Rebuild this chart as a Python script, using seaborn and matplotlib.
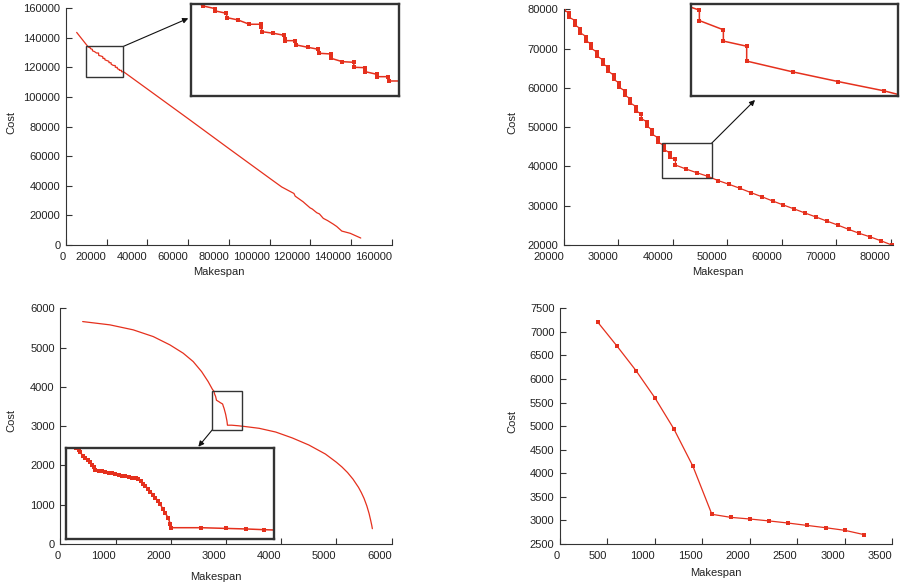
import matplotlib
matplotlib.use('Agg')
import matplotlib.pyplot as plt
import seaborn as sns
from matplotlib.patches import Rectangle

# top-left run: makespan / cost (inset region read from the zoom box)
tl_makespan = [5250, 10920, 12005, 12005, 12974, 13036, 14006, 15002, 16007, 16033, 16121, 17117,
               18060, 18122, 18175, 19056, 19145, 20149, 21084, 21145, 22177, 22203, 23200, 24204,
               24231, 25201, 25227, 26232, 26258, 27255, 27290, 28286, 40000, 60000, 80000, 100245,
               106000, 112000, 112600, 116500, 117400, 119900, 121000, 123200, 124500, 126400,
               128500, 131300, 133000, 135500, 139600, 144800]
tl_cost = [143700, 133850, 133247, 132733, 132219, 131235, 130721, 129760, 129760, 129224, 128106,
           127749, 127302, 126475, 126095, 126095, 125134, 124620, 124173, 123279, 123122, 122161,
           121401, 121267, 120149, 120060, 119166, 118585, 118049, 118049, 117087, 117087, 105400,
           85400, 65200, 44915, 39200, 34800, 33000, 29200, 28100, 25100, 24300, 21800, 21000,
           18000, 16500, 14100, 12500, 9400, 7900, 4700]

# top-right run
tr_makespan = [20000, 20918, 20918, 22020, 22020, 22938, 22938, 24039, 24039, 24979, 24979,
               26059, 26059, 27099, 27099, 28078, 28078, 29119, 29119, 30159, 30159, 31138, 31138,
               32179, 32179, 33219, 33219, 34198, 34198, 35239, 35239, 36218, 36218, 37197, 37197,
               38400, 38400, 39450, 39450, 40470, 40470, 42480, 44480, 46480, 48335, 50294, 52313,
               54333, 56291, 58311, 60269, 62289, 64247, 66267, 68225, 70245, 72264, 74223, 76303,
               78323, 80282]
tr_cost = [79850, 79000, 77980, 77131, 76027, 75094, 74075, 73056, 72037, 71104, 70085, 69066,
           68132, 67114, 66180, 65246, 64313, 63209, 62190, 61172, 60153, 59219, 58200, 57182,
           56163, 55229, 54211, 53277, 52173, 51325, 50306, 49202, 48183, 47335, 46231, 45320,
           44300, 43400, 42300, 41800, 40350, 39300, 38350, 37450, 36384, 35450, 34431, 33328,
           32309, 31205, 30187, 29168, 28149, 27131, 26112, 25093, 23990, 22971, 22037, 21019,
           19950]

# bottom-left run
bl_makespan = [405, 899, 1321, 1683, 1984, 2225, 2406, 2558, 2677, 2757, 2776, 2783, 2787, 2794,
               2801, 2808, 2814, 2818, 2823, 2827, 2836, 2844, 2853, 2862, 2870, 2879, 2888, 2897,
               2905, 2914, 2923, 2933, 2939, 2945, 2951, 2958, 2965, 2971, 2977, 2984, 2991, 2997,
               3003, 3010, 3017, 3023, 3026, 3104, 3170, 3222, 3269, 3300, 3600, 3900, 4200, 4500,
               4800, 5000, 5100, 5200, 5300, 5400, 5450, 5500, 5550, 5590, 5620, 5640, 5650]
bl_cost = [5662, 5578, 5451, 5280, 5069, 4857, 4644, 4389, 4134, 3930, 3902, 3880, 3855, 3817,
           3792, 3770, 3745, 3719, 3690, 3660, 3653, 3646, 3638, 3631, 3624, 3616, 3605, 3598,
           3591, 3584, 3576, 3569, 3562, 3536, 3507, 3482, 3452, 3422, 3389, 3353, 3317, 3280,
           3233, 3185, 3134, 3068, 3024, 3024, 3016, 3010, 3002, 2998, 2945, 2850, 2700, 2520,
           2290, 2080, 1960, 1820, 1650, 1440, 1310, 1160, 970, 780, 600, 470, 390]

# bottom-right run
br_makespan = [400, 600, 800, 1000, 1200, 1400, 1600, 1800, 2000, 2200, 2400, 2600, 2800, 3000, 3200]
br_cost = [7200, 6700, 6180, 5600, 4940, 4150, 3130, 3065, 3030, 2990, 2945, 2895, 2845, 2790, 2700]

RED = '#e5301d'
DARK = '#333333'
FS = 8

sns.set_style('ticks')
plt.rcParams['font.family'] = ['Liberation Sans', 'DejaVu Sans']
plt.rcParams['font.size'] = FS

fig = plt.figure(figsize=(9, 5.83), dpi=100)


def main_axes(rect, xs, ys, xlim, ylim, xticks, yticks, ylab_x, ylab_y, xlab_y, markers):
    ax = fig.add_axes(rect)
    kw = dict(marker='s', markersize=2.2, markeredgewidth=0) if markers else {}
    sns.lineplot(x=xs, y=ys, ax=ax, estimator=None, sort=False, color=RED, lw=0.9, **kw)
    ax.set_xlim(*xlim)
    ax.set_ylim(*ylim)
    ax.set_xticks(xticks)
    ax.set_yticks(yticks)
    ax.set_xticklabels([str(t) for t in xticks], ha='right')
    ax.tick_params(direction='in', length=4, width=0.8, color=DARK, labelcolor='#222222',
                   labelsize=FS)
    ax.tick_params(axis='x', pad=5)
    ax.tick_params(axis='y', pad=4)
    for s in ['top', 'right']:
        ax.spines[s].set_visible(False)
    for s in ['left', 'bottom']:
        ax.spines[s].set_linewidth(0.8)
        ax.spines[s].set_color(DARK)
    ax.set_xlabel('Makespan', va='top', ha='center', fontsize=FS, color='#222222')
    ax.set_ylabel('Cost', va='center', ha='center', fontsize=FS, color='#222222')
    ax.xaxis.set_label_coords(0.468, xlab_y)
    ax.yaxis.set_label_coords(ylab_x, ylab_y)
    return ax


def inset_axes(rect, xs, ys, xlim, ylim):
    ax = fig.add_axes(rect)
    sns.lineplot(x=xs, y=ys, ax=ax, estimator=None, sort=False, color=RED, lw=1.1,
                 marker='s', markersize=3.2, markeredgewidth=0)
    ax.set_xlim(*xlim)
    ax.set_ylim(*ylim)
    ax.set_xticks([])
    ax.set_yticks([])
    ax.set_xlabel('')
    ax.set_ylabel('')
    for s in ax.spines.values():
        s.set_visible(True)
        s.set_linewidth(1.7)
        s.set_color(DARK)
    return ax


def zoom_box(ax, x0, x1, y0, y1):
    ax.add_patch(Rectangle((x0, y0), x1 - x0, y1 - y0, fill=False, ec=DARK, lw=1.0, zorder=5))


def arrow(ax, start, end_fig):
    ax.annotate('', xy=end_fig, xycoords='figure fraction', xytext=start, textcoords='data',
                arrowprops=dict(arrowstyle='-|>', color='#111111', lw=0.8,
                                mutation_scale=8, shrinkA=0, shrinkB=0),
                annotation_clip=False)


# top-left
ax1 = main_axes([0.0733, 0.5798, 0.3619, 0.406], tl_makespan, tl_cost, (0, 160000), (0, 160000),
                list(range(0, 160001, 20000)), list(range(0, 160001, 20000)),
                -0.168, 0.518, -0.092, markers=False)
box1 = (9836, 28197, 113805, 134230)
zoom_box(ax1, *box1)
arrow(ax1, (box1[1], box1[3]), (0.2092, 0.9686))
inset_axes([0.2119, 0.8359, 0.2314, 0.1568], tl_makespan, tl_cost, box1[:2], box1[2:])

# top-right
ax2 = main_axes([0.6267, 0.5798, 0.3659, 0.4043], tr_makespan, tr_cost, (20000, 80500),
                (20000, 80000), list(range(20000, 80001, 10000)), list(range(20000, 80001, 10000)),
                -0.156, 0.518, -0.092, markers=True)
box2 = (38054, 47112, 36978, 45891)
zoom_box(ax2, *box2)
arrow(ax2, (box2[1], box2[3]), (0.8389, 0.8285))
inset_axes([0.7683, 0.8359, 0.2300, 0.1568], tr_makespan, tr_cost, box2[:2], box2[2:])

# bottom-left
ax3 = main_axes([0.067, 0.0669, 0.3682, 0.4043], bl_makespan, bl_cost, (0, 6000), (0, 6000),
                list(range(0, 6001, 1000)), list(range(0, 6001, 1000)),
                -0.148, 0.522, -0.118, markers=False)
box3 = (2750, 3293, 2903, 3905)
zoom_box(ax3, *box3)
arrow(ax3, (box3[0], box3[2]), (0.2204, 0.2338))
inset_axes([0.0733, 0.076, 0.2306, 0.1561], bl_makespan, bl_cost, box3[:2], box3[2:])

# bottom-right
ax4 = main_axes([0.6222, 0.0669, 0.3692, 0.4043], br_makespan, br_cost, (0, 3500), (2500, 7500),
                list(range(0, 3501, 500)), list(range(2500, 7501, 500)),
                -0.143, 0.52, -0.103, markers=True)

fig.savefig('out.png', dpi=100)
